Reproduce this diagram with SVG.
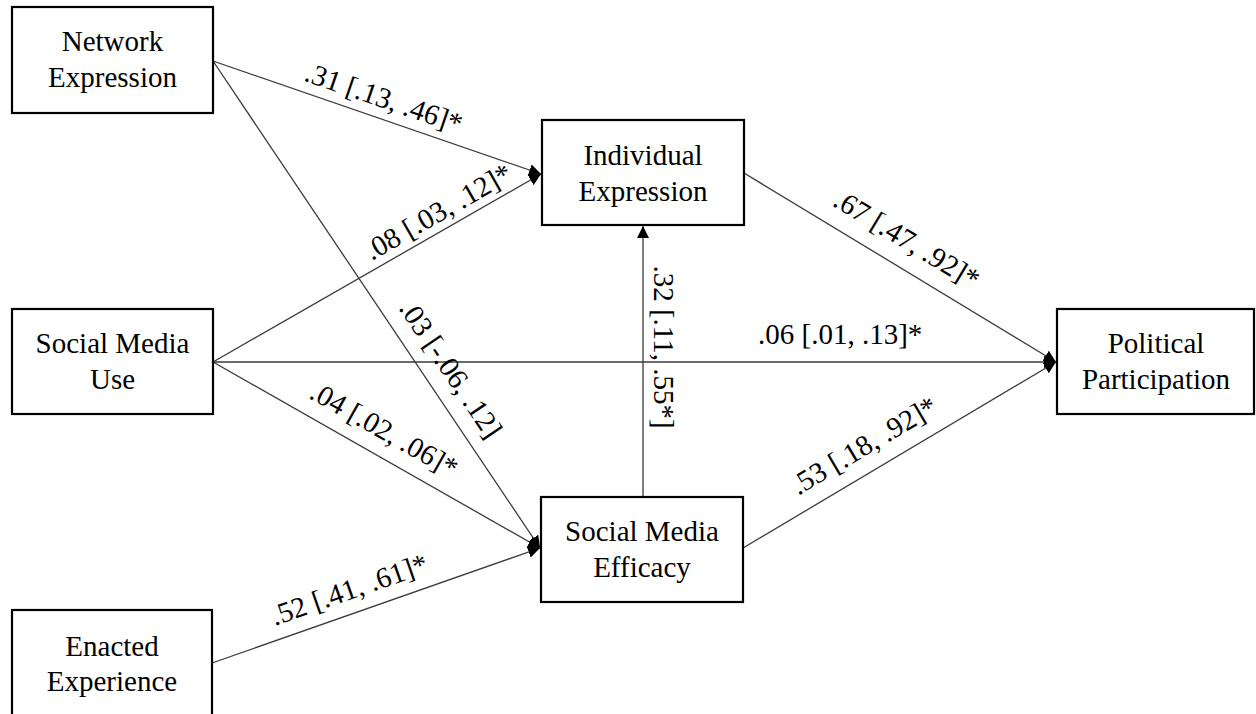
<svg xmlns="http://www.w3.org/2000/svg" width="1256" height="714" viewBox="0 0 1256 714">
<defs>
<style>
.box{fill:#fff;stroke:#000;stroke-width:2.2}
.nt{font-family:'Liberation Serif','Times New Roman',Times,Tinos,'DejaVu Serif',serif;font-size:29px;fill:#000;text-anchor:middle}
.lb{font-family:'Liberation Serif','Times New Roman',Times,Tinos,'DejaVu Serif',serif;font-size:29px;fill:#000;text-anchor:middle}
.ln{fill:none;stroke:#3a3a3a;stroke-width:1.3}
</style>
<marker id="ah" markerUnits="userSpaceOnUse" markerWidth="12" markerHeight="12" refX="12" refY="6" orient="auto" viewBox="0 0 12 12">
<path d="M0,0 L12,6 L0,12 z" fill="#000"/>
</marker>
</defs>
<rect width="1256" height="714" fill="#fff"/>
<g id="connectors">
<line class="ln" x1="213" y1="61" x2="541" y2="174" marker-end="url(#ah)"/>
<line class="ln" x1="213" y1="61" x2="540" y2="548" marker-end="url(#ah)"/>
<line class="ln" x1="213" y1="362" x2="541" y2="174" marker-end="url(#ah)"/>
<line class="ln" x1="213" y1="362" x2="540" y2="548" marker-end="url(#ah)"/>
<line class="ln" x1="212" y1="663" x2="540" y2="548" marker-end="url(#ah)"/>
<line class="ln" x1="643" y1="497" x2="643" y2="226" marker-end="url(#ah)"/>
<line class="ln" x1="744" y1="173" x2="1056" y2="362" marker-end="url(#ah)"/>
<line class="ln" x1="743" y1="548" x2="1056" y2="362" marker-end="url(#ah)"/>
<line class="ln" x1="213" y1="362" x2="1056" y2="362" stroke="#111" marker-end="url(#ah)"/>
<text class="lb" font-family="Liberation Serif" transform="translate(377,117.5) rotate(19)" y="-11">.31 [.13, .46]*</text>
<text class="lb" transform="translate(447.5,228) rotate(-29.8)" y="-9">.08 [.03, .12]*</text>
<text class="lb" transform="translate(430.3,382.7) rotate(56)" y="-15">.03 [-.06, .12]</text>
<text class="lb" transform="translate(371.5,452) rotate(29.6)" y="-16">.04 [.02, .06]*</text>
<text class="lb" transform="translate(357,612) rotate(-19.3)" y="-14">.52 [.41, .61]*</text>
<text class="lb" transform="translate(643,347) rotate(90)" y="-11">.32 [.11, .55*]</text>
<text class="lb" transform="translate(893,262) rotate(31.1)" y="-17">.67 [.47, .92]*</text>
<text class="lb" transform="translate(877.5,468.5) rotate(-30.6)" y="-17">.53 [.18, .92]*</text>
<text class="lb" x="758" y="344" style="text-anchor:start">.06 [.01, .13]*</text>
</g>
<g id="network-expression">
<rect class="box" x="12" y="7" width="201" height="106"/>
<text class="nt" x="112.5" y="51">Network</text>
<text class="nt" x="112.5" y="87">Expression</text>
</g>
<g id="social-media-use">
<rect class="box" x="12" y="309" width="201" height="105"/>
<text class="nt" x="112.5" y="352.5">Social Media</text>
<text class="nt" x="112.5" y="388.5">Use</text>
</g>
<g id="enacted-experience">
<rect class="box" x="12" y="610" width="200" height="120"/>
<text class="nt" x="112" y="656">Enacted</text>
<text class="nt" x="112" y="691">Experience</text>
</g>
<g id="individual-expression">
<rect class="box" x="542" y="120" width="202" height="105"/>
<text class="nt" x="643" y="165">Individual</text>
<text class="nt" x="643" y="201">Expression</text>
</g>
<g id="social-media-efficacy">
<rect class="box" x="541" y="497" width="202" height="105"/>
<text class="nt" x="642" y="541">Social Media</text>
<text class="nt" x="642" y="577">Efficacy</text>
</g>
<g id="political-participation">
<rect class="box" x="1057" y="309" width="197" height="105"/>
<text class="nt" x="1156" y="353">Political</text>
<text class="nt" x="1156" y="389">Participation</text>
</g>
</svg>
